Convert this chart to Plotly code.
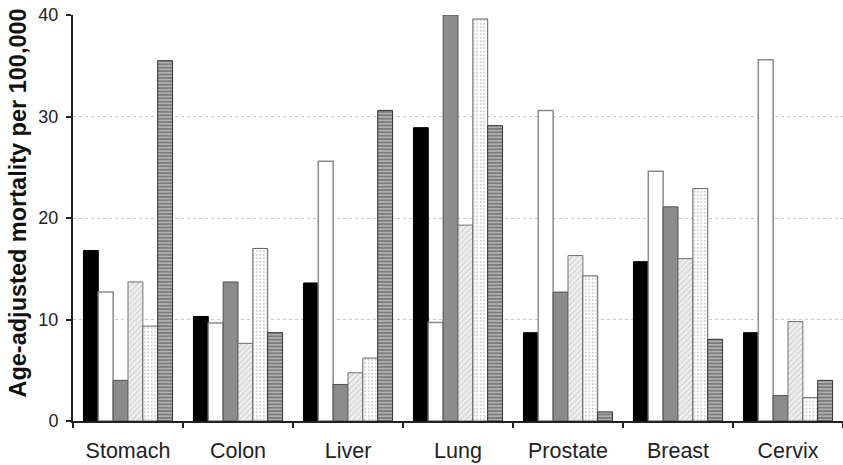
import plotly.graph_objects as go

categories = ["Stomach", "Colon", "Liver", "Lung", "Prostate", "Breast", "Cervix"]

series_names = ["Series 1", "Series 2", "Series 3", "Series 4", "Series 5", "Series 6"]
s1 = [16.8, 10.3, 13.6, 28.9, 8.7, 15.7, 8.7]
s2 = [12.7, 9.65, 25.6, 9.7, 30.6, 24.6, 35.6]
s3 = [4.0, 13.7, 3.6, 40.0, 12.7, 21.1, 2.5]
s4 = [13.7, 7.65, 4.75, 19.3, 16.3, 16.0, 9.8]
s5 = [9.35, 17.0, 6.2, 39.6, 14.3, 22.9, 2.3]
s6 = [35.5, 8.7, 30.6, 29.1, 0.9, 8.05, 4.0]
y_ticks = [0, 10, 20, 30, 40]

styles = [
    dict(color="#000000", line=dict(color="#000000", width=1)),
    dict(color="#ffffff", line=dict(color="#8a8a8a", width=1.5)),
    dict(color="#8c8c8c", line=dict(color="#505050", width=1)),
    dict(color="#eeeeee", line=dict(color="#707070", width=1),
         pattern=dict(shape="/", fgcolor="#b0b0b0", bgcolor="#f0f0f0", size=4, solidity=0.3)),
    dict(color="#ffffff", line=dict(color="#606060", width=1),
         pattern=dict(shape=".", fgcolor="#9a9a9a", bgcolor="#ffffff", size=3.5, solidity=0.25)),
    dict(color="#bbbbbb", line=dict(color="#333333", width=1),
         pattern=dict(shape="-", fgcolor="#3a3a3a", bgcolor="#bdbdbd", size=3.4, solidity=0.6)),
]

fig = go.Figure()
for name, vals, st in zip(series_names, [s1, s2, s3, s4, s5, s6], styles):
    fig.add_trace(go.Bar(x=categories, y=vals, name=name, marker=st, showlegend=False))

fig.update_layout(
    width=843, height=465,
    margin=dict(l=73, r=0, t=15, b=44),
    paper_bgcolor="white", plot_bgcolor="white",
    barmode="group", bargap=0.19, bargroupgap=0,
    font=dict(family="Liberation Sans, Arial, sans-serif", color="#222222"),
    xaxis=dict(
        range=[-0.5, 6.5], showline=True, linecolor="#222222", linewidth=2,
        ticks="outside", tickson="boundaries", ticklen=5, tickwidth=2, tickcolor="#222222",
        tickfont=dict(size=21.5, color="#222222"), showgrid=False, ticklabelstandoff=9,
        automargin=False,
    ),
    yaxis=dict(
        range=[0, 40], tickvals=y_ticks, showline=True, linecolor="#222222", linewidth=2,
        ticks="outside", ticklen=5, tickwidth=2, tickcolor="#222222",
        tickfont=dict(size=18, color="#222222"), showgrid=True, gridcolor="#c8c8c8",
        gridwidth=1, griddash="3px,3px", zeroline=False, ticklabelstandoff=4,
        automargin=False,
    ),
    annotations=[dict(
        text="<b>Age-adjusted mortality per 100,000</b>", textangle=-90,
        xref="paper", yref="paper", x=-0.0727, y=0.0517,
        xanchor="center", yanchor="bottom", showarrow=False,
        font=dict(size=23.5, color="#111111", family="Liberation Sans, Arial, sans-serif"),
    )],
)

fig.write_html("out.html")
